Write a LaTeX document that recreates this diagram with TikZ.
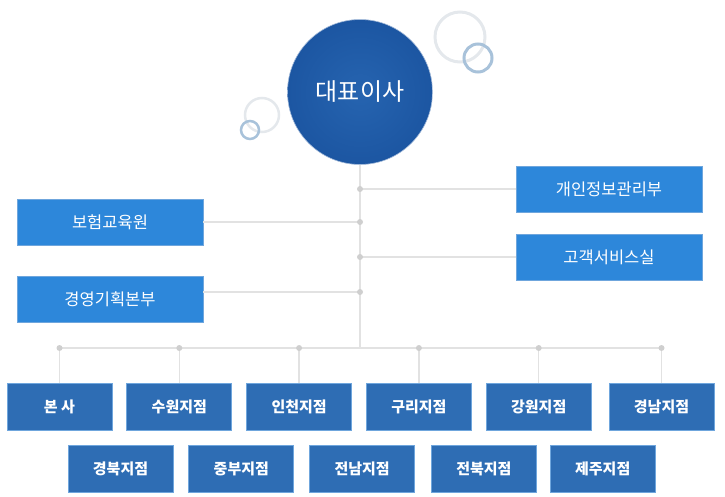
\documentclass[tikz,border=0pt]{standalone}
\usepackage{fontspec}
\setmainfont{Noto Sans CJK KR}
\usetikzlibrary{positioning}
\definecolor{ceoblue}{HTML}{1C56A2}
\definecolor{ceolight}{HTML}{2664B0}
\definecolor{sideblue}{HTML}{2D87DA}
\definecolor{branchblue}{HTML}{2E6DB4}
\definecolor{edgeblue}{HTML}{6FA6DD}
\definecolor{linegray}{HTML}{E2E2E2}
\definecolor{dotgray}{HTML}{CFCFCF}
\definecolor{ringgray}{HTML}{E4E8EC}
\definecolor{ringblue}{HTML}{A8C2DA}
\tikzset{
  ceo/.style={circle,minimum size=145pt,inner sep=0pt,
    inner color=ceolight,outer color=ceoblue,text=white,
    draw=ceoblue!40,line width=0.6pt,
    font=\fontsize{24}{26}\selectfont},
  sidebox/.style={rectangle,minimum width=186pt,minimum height=46pt,
    inner sep=0pt,fill=sideblue,draw=edgeblue,line width=0.8pt,
    text=white,font=\fontsize{16.5}{18}\selectfont},
  branchbox/.style={rectangle,minimum width=105pt,minimum height=47pt,
    inner sep=0pt,fill=branchblue,draw=edgeblue,line width=0.8pt,
    text=white,font=\bfseries\fontsize{15}{17}\selectfont},
  link/.style={draw=linegray,line width=1.3pt},
  joint/.style={circle,fill=dotgray,inner sep=0pt,minimum size=6pt},
}

\begin{document}
\begin{tikzpicture}[x=1pt,y=-1pt]
\useasboundingbox (0,0) rectangle (725,497);

% decoration rings
\draw[ringgray,line width=3pt] (460,37) circle (25pt);
\draw[ringblue,line width=3pt] (478,58) circle (14pt);
\draw[ringgray,line width=2.5pt] (262,115) circle (17pt);
\draw[ringblue,line width=2.5pt] (250,130) circle (9pt);

% head
\node[ceo] (ceo) at (360,92) {대표이사};

% staff units
\node[sidebox] (privacy) at (609,189) {개인정보관리부};
\node[sidebox] (service) at (609,257) {고객서비스실};
\node[sidebox] (edu) at (110,222) {보험교육원};
\node[sidebox] (plan) at (110,299) {경영기획본부};

% branches
\node[branchbox] (hq) at (59.5,406.5) {본 사};
\node[branchbox,right=14pt of hq] (suwon) {수원지점};
\node[branchbox,right=14pt of suwon] (incheon) {인천지점};
\node[branchbox,right=14pt of incheon] (guri) {구리지점};
\node[branchbox,right=14pt of guri] (gangwon) {강원지점};
\node[branchbox,right=17pt of gangwon] (gyeongnam) {경남지점};

\node[branchbox] (gyeongbuk) at (120.5,469) {경북지점};
\node[branchbox,right=15pt of gyeongbuk] (jungbu) {중부지점};
\node[branchbox,right=15pt of jungbu] (jeonnam) {전남지점};
\node[branchbox,right=16pt of jeonnam] (jeonbuk) {전북지점};
\node[branchbox,right=13pt of jeonbuk] (jeju) {제주지점};

% trunk and bus
\coordinate (bus) at (360,348);
\coordinate (plan-tap) at ([yshift=7pt]plan.east);
\draw[link] (ceo.south) -- (ceo.south |- bus);
\draw[link] (hq.north |- bus) -- (gyeongnam.north |- bus);

\draw[link] (privacy.west) -- (ceo |- privacy);
\draw[link] (service.west) -- (ceo |- service);
\draw[link] (edu.east) -- (ceo |- edu);
\draw[link] (plan-tap) -- (ceo |- plan-tap);

\foreach \u in {privacy,service,edu,plan-tap}
  \node[joint] (j-\u) at (ceo |- \u) {};

\foreach \b in {hq,suwon,incheon,guri,gangwon,gyeongnam} {
  \draw[link] (\b.north |- bus) -- (\b.north);
  \node[joint] (j-\b) at (\b.north |- bus) {};
}

\end{tikzpicture}
\end{document}
